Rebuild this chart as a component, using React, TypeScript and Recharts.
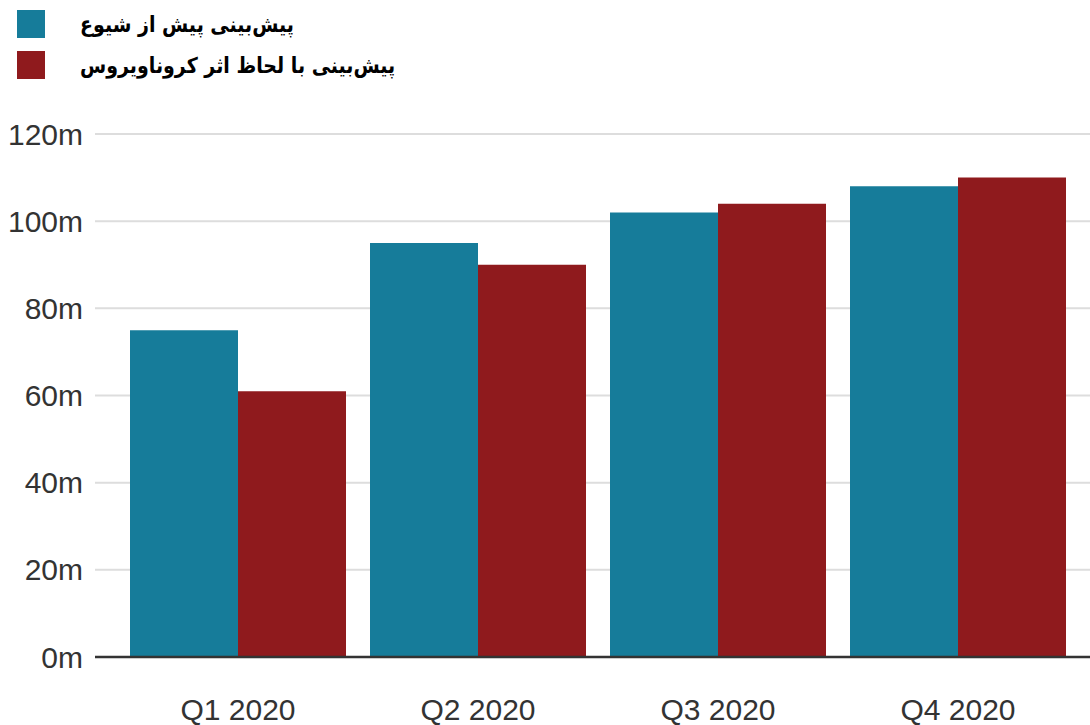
import { BarChart, Bar, XAxis, YAxis, CartesianGrid } from "recharts"

const quarters = ["Q1 2020", "Q2 2020", "Q3 2020", "Q4 2020"]
const preOutbreak = [75, 95, 102, 108]
const withCorona = [61, 90, 104, 110]
const yTicks = [0, 20, 40, 60, 80, 100, 120]

const seriesNames = ["پیش‌بینی پیش از شیوع", "پیش‌بینی با لحاظ اثر کروناویروس"]
const colors = ["#167c9a", "#8f1a1d"]

const data = quarters.map((q, i) => ({ name: q, pre: preOutbreak[i], corona: withCorona[i] }))

const tickStyle = { fontSize: 30, fill: "#333", fontFamily: "Liberation Sans, Arial, sans-serif" }

export default function App() {
  return (
    <div style={{ position: "absolute", left: 0, top: 0, width: 1090, height: 725, background: "#fff" }}>
      <div style={{ position: "absolute", left: 0, top: 0, fontFamily: "DejaVu Sans", fontWeight: "bold" }}>
        {seriesNames.map((n, i) => (
          <div key={n} style={{ position: "absolute", left: 17, top: 10 + i * 41, display: "flex", alignItems: "center", whiteSpace: "nowrap" }}>
            <div style={{ width: 28, height: 28, background: colors[i] }} />
            <div dir="rtl" style={{ marginLeft: 35, fontSize: 19, color: "#000", transform: "scaleY(1.15)" }}>{n}</div>
          </div>
        ))}
      </div>
      <BarChart
        width={1090}
        height={725}
        data={data}
        margin={{ top: 134, right: 0, bottom: 0, left: 0 }}
        barCategoryGap="5%"
        barGap={0}
      >
        <CartesianGrid vertical={false} stroke="#ddd" strokeWidth={2} />
        <XAxis
          dataKey="name"
          height={68}
          padding={{ left: 23, right: 12 }}
          tickLine={false}
          tickSize={0}
          tickMargin={42}
          axisLine={{ stroke: "#333", strokeWidth: 2.5 }}
          tick={tickStyle}
        />
        <YAxis
          width={95}
          domain={[0, 120]}
          ticks={yTicks}
          tickFormatter={(v) => `${v}m`}
          axisLine={false}
          tickLine={false}
          tickSize={0}
          tickMargin={12}
          tick={tickStyle}
        />
        <Bar dataKey="pre" fill={colors[0]} isAnimationActive={false} />
        <Bar dataKey="corona" fill={colors[1]} isAnimationActive={false} />
      </BarChart>
    </div>
  )
}
